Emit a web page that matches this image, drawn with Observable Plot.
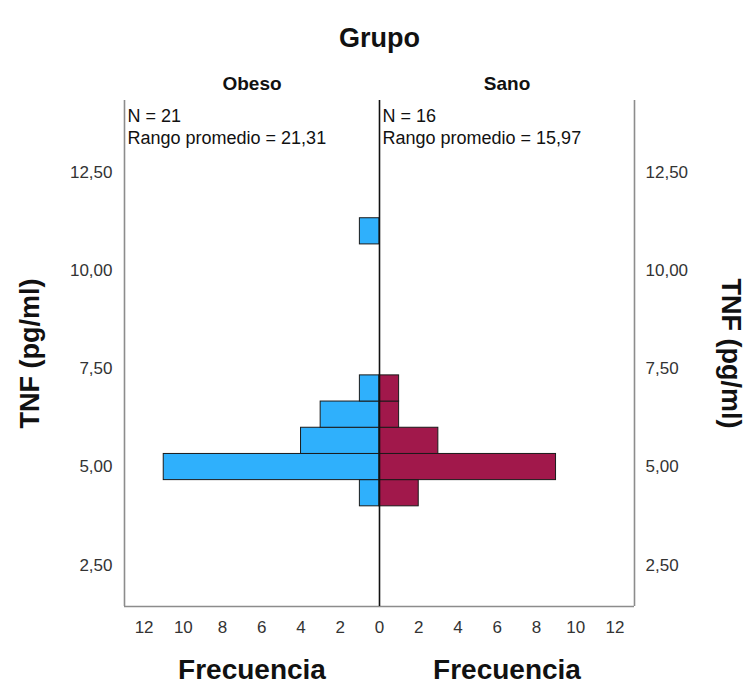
<!DOCTYPE html>
<html>
<head>
<meta charset="utf-8">
<script src="https://cdn.jsdelivr.net/npm/d3@7"></script>
<script src="https://cdn.jsdelivr.net/npm/@observablehq/plot@0.6"></script>
<style>
  html, body { margin: 0; padding: 0; background: #fff; }
</style>
</head>
<body>
<div id="chart"></div>
<script>
// Bin edges (TNF pg/ml) and frequencies per group
const binLo = [4.0, 4.667, 5.333, 6.0, 6.667, 10.667];
const binHi = [4.667, 5.333, 6.0, 6.667, 7.333, 11.333];
const obeso = [1, 11, 4, 3, 1, 1];
const sano  = [2, 9, 3, 1, 1, 0];
const groups = ["Obeso", "Sano"];
const groupN = [21, 16];
const groupRank = ["21,31", "15,97"];
const xTicks = [-12, -10, -8, -6, -4, -2, 0, 2, 4, 6, 8, 10, 12];
const yTicks = [2.5, 5, 7.5, 10, 12.5];
const xDomain = [-13, 13];
const yDomain = [1.45, 14.33];
const colors = ["#2fb0fc", "#a1184b"];

const rows = [];
binLo.forEach((lo, i) => {
  rows.push({grupo: "Obeso", lo, hi: binHi[i], v: -obeso[i]});
  rows.push({grupo: "Sano", lo, hi: binHi[i], v: sano[i]});
});
const bars = rows.filter(d => d.v !== 0);

const headers = groups.map((g, i) => ({g, x: (i === 0 ? -1 : 1) * xDomain[1] / 2}));
const notes = groups.map((g, i) => ({
  x: i === 0 ? xDomain[0] : 0,
  t: `N = ${groupN[i]}\nRango promedio = ${groupRank[i]}`
}));

const fmtY = d => d.toFixed(2).replace(".", ",");
const bold = {fontWeight: "bold", fontFamily: "Liberation Sans, Arial, sans-serif"};

const chart = Plot.plot({
  width: 748,
  height: 686,
  marginLeft: 124,
  marginRight: 114,
  marginTop: 100,
  marginBottom: 80,
  style: {fontFamily: "Liberation Sans, Arial, sans-serif", fontSize: "17px", color: "#333", background: "#fff"},
  x: {domain: xDomain},
  y: {domain: yDomain},
  color: {domain: groups, range: colors},
  marks: [
    Plot.rectX(bars, {x1: 0, x2: "v", y1: "lo", y2: "hi", fill: "grupo", stroke: "#1a1a1a", strokeWidth: 1}),
    Plot.ruleX(xDomain, {stroke: "#8c8c8c", strokeWidth: 1.6}),
    Plot.ruleY([yDomain[0]], {stroke: "#8c8c8c", strokeWidth: 1.6}),
    Plot.ruleX([0], {stroke: "#111", strokeWidth: 1.6}),
    Plot.axisX(xTicks, {tickSize: 0, tickPadding: 14, tickFormat: d => Math.abs(d), fontSize: 17, fill: "#333", label: null}),
    Plot.axisY(yTicks, {anchor: "left", tickSize: 0, tickPadding: 12, tickFormat: fmtY, fontSize: 17, fill: "#333", label: null}),
    Plot.axisY(yTicks, {anchor: "right", tickSize: 0, tickPadding: 11, tickFormat: fmtY, fontSize: 17, fill: "#333", label: null}),
    Plot.text(notes, {x: "x", text: "t", frameAnchor: "top", textAnchor: "start", lineAnchor: "top", dx: 3, dy: 7, lineHeight: 1.17,
      fontSize: 18, fill: "#111"}),
    Plot.text(headers, {x: "x", text: "g", frameAnchor: "top", dy: -24, fontSize: 19, fill: "#111", ...bold}),
    Plot.text(["Grupo"], {x: 0, frameAnchor: "top", dy: -73, fontSize: 27, fill: "#111", ...bold}),
    Plot.text(headers, {x: "x", text: () => "Frecuencia", frameAnchor: "bottom", dy: 72, fontSize: 28, fill: "#111", ...bold}),
    Plot.text(["TNF (pg/ml)"], {frameAnchor: "left", textAnchor: "middle", dx: -94, rotate: -90, fontSize: 27, fill: "#111", ...bold}),
    Plot.text(["TNF (pg/ml)"], {frameAnchor: "right", textAnchor: "middle", dx: 96, rotate: 90, fontSize: 27, fill: "#111", ...bold})
  ]
});
document.getElementById("chart").appendChild(chart);
</script>
</body>
</html>
